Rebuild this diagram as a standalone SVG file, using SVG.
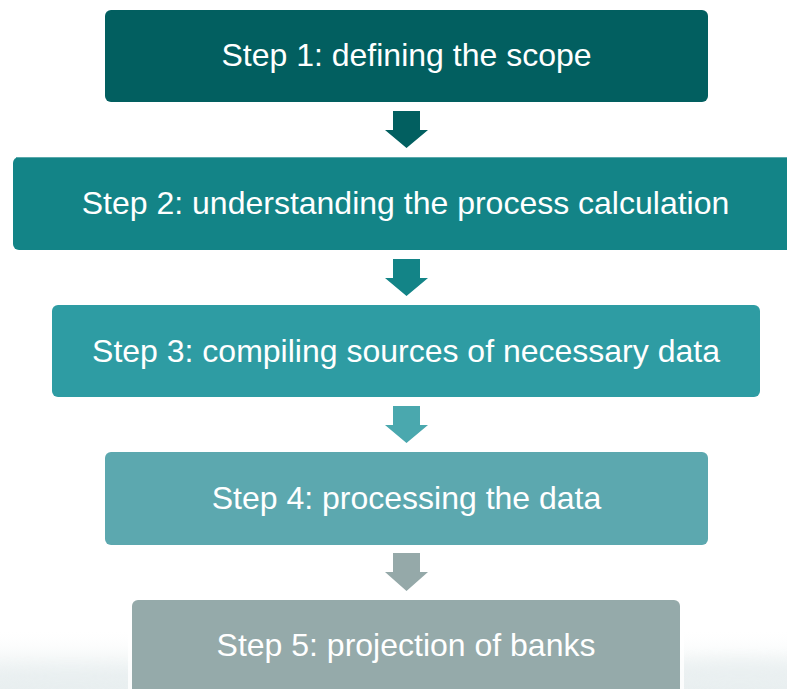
<svg xmlns="http://www.w3.org/2000/svg" width="787" height="689" viewBox="0 0 787 689">
  <style>
    .label { font-family: "Liberation Sans", Arial, sans-serif; font-size: 32px; fill: #ffffff; text-anchor: middle; }
  </style>
  <defs>
    <linearGradient id="haze" x1="0" y1="0" x2="0" y2="1">
      <stop offset="0" stop-color="#ffffff" stop-opacity="0"/>
      <stop offset="0.5" stop-color="#f5f8f8"/>
      <stop offset="1" stop-color="#e9eff0"/>
    </linearGradient>
    <filter id="soft" x="-10%" y="-50%" width="120%" height="200%">
      <feGaussianBlur stdDeviation="7"/>
    </filter>
  </defs>

  <!-- page background with a pale wash along the bottom -->
  <rect width="787" height="689" fill="#ffffff"/>
  <rect x="0" y="628" width="787" height="61" fill="url(#haze)"/>
  <ellipse cx="70" cy="676" rx="110" ry="10" fill="#e2eaec" opacity="0.4" filter="url(#soft)"/>
  <ellipse cx="740" cy="672" rx="90" ry="12" fill="#e2eaec" opacity="0.4" filter="url(#soft)"/>

  <!-- connectors -->
  <g id="connectors">
    <polygon id="arrow-1-2" fill="#025f60" points="393,111 420,111 420,130 428,130 406.5,148 385,130 393,130"/>
    <polygon id="arrow-2-3" fill="#138487" points="393,259 420,259 420,278 428,278 406.5,296 385,278 393,278"/>
    <polygon id="arrow-3-4" fill="#4aa8ae" points="393,406 420,406 420,425 428,425 406.5,443 385,425 393,425"/>
    <polygon id="arrow-4-5" fill="#95a9a9" points="393,553 420,553 420,572 428,572 406.5,591 385,572 393,572"/>
  </g>

  <g id="step1">
    <rect x="105" y="10" width="603" height="92" rx="6" fill="#025f60"/>
    <text class="label" x="406.5" y="66">Step 1: defining the scope</text>
  </g>

  <g id="step2">
    <rect x="13" y="157" width="790" height="93" rx="6" fill="#138487"/>
    <line x1="16" y1="157.5" x2="787" y2="157.5" stroke="#5aa9ab" stroke-width="1"/>
    <text class="label" x="405.5" y="214">Step 2: understanding the process calculation</text>
  </g>

  <g id="step3">
    <rect x="52" y="305" width="708" height="92" rx="6" fill="#2e9ca3"/>
    <text class="label" x="406" y="362">Step 3: compiling sources of necessary data</text>
  </g>

  <g id="step4">
    <rect x="105" y="452" width="603" height="93" rx="6" fill="#5ca8af"/>
    <text class="label" x="406.5" y="509">Step 4: processing the data</text>
  </g>

  <g id="step5">
    <rect x="128" y="597" width="556" height="100" rx="8" fill="#ffffff" opacity="0.8"/>
    <rect x="132" y="600" width="548" height="100" rx="6" fill="#95aaaa"/>
    <text class="label" x="406" y="656">Step 5: projection of banks</text>
  </g>
</svg>
